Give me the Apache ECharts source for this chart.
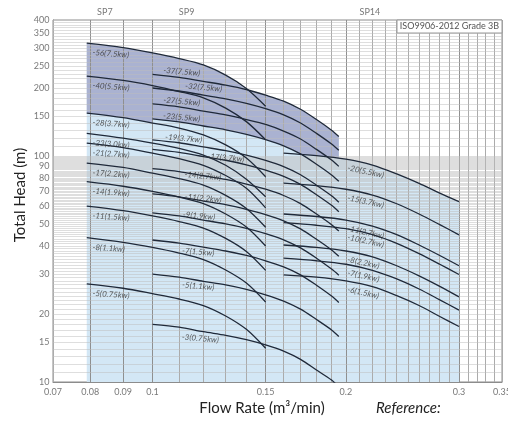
<!DOCTYPE html>
<html><head><meta charset="utf-8">
<script src="https://cdn.jsdelivr.net/npm/echarts@6/dist/echarts.min.js"></script>
<style>html,body{margin:0;padding:0;background:#fff}#c{width:508px;height:421px}</style>
</head><body><div id="c"></div>
<script>
// ---- data ----
const sp7Flow = [0.079, 0.09, 0.1, 0.11, 0.12, 0.13, 0.14, 0.15];
const sp7Labels = ['-56(7.5kw)','-40(5.5kw)','-28(3.7kw)','-23(3.0kw)','-21(2.7kw)','-17(2.2kw)','-14(1.9kw)','-11(1.5kw)','-8(1.1kw)','-5(0.75kw)'];
const sp7Heads = [
  [316, 302, 286, 270, 253, 228, 199, 166],
  [226, 216, 205, 193, 181, 163, 142, 118],
  [155, 148, 140, 133, 124, 112, 98, 81],
  [126, 120, 114, 108, 101, 91, 79, 66],
  [114, 109, 103, 97.5, 91, 82, 72, 59],
  [93, 89, 84, 79.5, 74.4, 67, 58.6, 48.4],
  [77, 73.5, 69.7, 65.8, 61.6, 55.4, 48.5, 40],
  [60, 57.3, 54.3, 51.3, 48, 43.2, 37.8, 31.2],
  [43.5, 41.5, 39.4, 37.2, 34.8, 31.3, 27.4, 22.6],
  [27.2, 26, 24.6, 23.3, 21.8, 19.6, 17.1, 14.1]
];
const sp9Flow = [0.1, 0.11, 0.12, 0.13, 0.14, 0.15, 0.16, 0.17, 0.18, 0.19, 0.195];
const sp9Labels = ['-37(7.5kw)','-32(7.5kw)','-27(5.5kw)','-23(5.5kw)','-19(3.7kw)','-17(3.7kw)','-14(2.7kw)','-11(2.2kw)','-9(1.9kw)','-7(1.5kw)','-5(1.1kw)','-3(0.75kw)'];
const sp9Heads = [
  [230, 223, 214, 206, 197, 186, 175, 161, 145, 130, 122],
  [200, 194, 186, 179, 171, 162, 152, 140, 126, 113, 106],
  [170, 165, 158, 152, 145, 138, 129, 119, 107, 96, 90],
  [146, 141.6, 135.8, 130.7, 124.8, 118.3, 111, 102.2, 92, 82.5, 77.4],
  [118, 114.5, 109.7, 105.6, 100.9, 95.6, 89.7, 82.6, 74.3, 66.7, 62.5],
  [107, 103.8, 99.5, 95.8, 91.5, 86.7, 81.3, 74.9, 67.4, 60.5, 56.7],
  [88, 85.4, 81.8, 78.8, 75.2, 71.3, 66.9, 61.6, 55.4, 49.7, 46.6],
  [68, 66, 63.2, 60.9, 58.1, 55.1, 51.7, 47.6, 42.8, 38.4, 36],
  [56, 54.3, 52.1, 50.1, 47.9, 45.4, 42.6, 39.2, 35.3, 31.6, 29.7],
  [42.5, 41.2, 39.5, 38, 36.3, 34.4, 32.3, 29.8, 26.8, 24, 22.5],
  [30, 29.1, 27.9, 26.9, 25.7, 24.3, 22.8, 21, 18.9, 17, 15.9],
  [18, 17.5, 16.7, 16.1, 15.4, 14.6, 13.7, 12.6, 11.3, 10.2, 9.5]
];
const sp14Flow = [0.16, 0.18, 0.2, 0.22, 0.24, 0.26, 0.28, 0.3];
const sp14Labels = ['-20(5.5kw)','-15(3.7kw)','-11(2.7kw)','-10(2.7kw)','-8(2.2kw)','-7(1.9kw)','-6(1.5kw)'];
const sp14Heads = [
  [103, 100.4, 96.8, 91.2, 83.4, 75.7, 68.5, 62.8],
  [75.9, 74, 71.3, 67.2, 61.5, 55.4, 49.7, 44.8],
  [55.4, 54, 52.1, 49, 44.9, 40.4, 36.3, 32.7],
  [50.7, 49.4, 47.7, 44.9, 41.1, 37, 33.2, 29.9],
  [40.4, 39.4, 38, 35.8, 32.7, 29.5, 26.5, 23.8],
  [35.3, 34.4, 33.2, 31.2, 28.6, 25.8, 23.1, 20.8],
  [29.8, 29.1, 28, 26.4, 24.1, 21.8, 19.5, 17.6]
];
const familyNames = ['SP7', 'SP9', 'SP14'];
const xTickLabels = [0.07, 0.08, 0.09, 0.1, 0.15, 0.2, 0.3, 0.35];
const yTickLabels = [10, 15, 20, 30, 40, 50, 60, 70, 80, 90, 100, 150, 200, 250, 300, 350, 400];
const noteText = 'ISO9906-2012 Grade 3B';

// ---- build options ----
const FONT = 'Lato, "Noto Sans", sans-serif';
const X_MIN = 0.07, X_MAX = 0.35, Y_MIN = 10, Y_MAX = 400;

function pts(flow, h) { return flow.map((q, i) => [q, h[i]]); }

// grid line values
const xGrid = [];
for (let v = 75; v < 100; v += 5) xGrid.push(v / 1000);
for (let v = 10; v <= 35; v++) xGrid.push(v / 100);
const xMajor = [0.08, 0.09, 0.1, 0.15, 0.2, 0.3];
const yGrid = [];
for (let v = 11; v <= 100; v++) yGrid.push(v);
for (let v = 110; v < 400; v += 10) yGrid.push(v);

const gridLines = [];
xGrid.forEach(v => gridLines.push({xAxis: v, lineStyle: {color: xMajor.some(m => Math.abs(m - v) < 1e-9) ? '#8f8f8f' : '#ababab', width: 1, type: 'solid'}}));
yGrid.forEach(v => gridLines.push({yAxis: v, lineStyle: {color: '#bdbdbd', width: 0.5, type: 'solid'}}));

// shaded regions
const top7 = pts(sp7Flow, sp7Heads[0]).filter(p => p[0] < 0.14);
const top9 = pts(sp9Flow, sp9Heads[0]).filter(p => p[0] >= 0.14);
const envelope = top7.concat(top9);
const low7 = pts(sp7Flow, sp7Heads[2]).filter(p => p[0] <= 0.1);
const low9 = pts(sp9Flow, sp9Heads[3]);
const darkPoly = envelope.concat(low9.slice().reverse(), low7.slice().reverse());
const lightPoly = [[sp7Flow[0], Y_MIN]].concat(envelope, [[sp9Flow[sp9Flow.length - 1], Y_MIN]]);
const sp14Poly = [[sp14Flow[0], Y_MIN]].concat(pts(sp14Flow, sp14Heads[0]), [[sp14Flow[sp14Flow.length - 1], Y_MIN]]);

function polySeries(poly, color, z) {
  return {
    type: 'custom', z: z, silent: true, animation: false, clip: true,
    data: [[0.1, 100]],
    renderItem: function (params, api) {
      return {type: 'polygon', shape: {points: poly.map(p => api.coord(p))}, style: {fill: color}};
    }
  };
}

const series = [];
series.push(polySeries(lightPoly, '#d3e7f5', 1));
series.push(polySeries(darkPoly, '#aab2d1', 1));
series.push(polySeries(sp14Poly, '#d3e7f5', 1));

// grid lines
series.push({
  type: 'line', data: [[0.1, 100]], symbol: 'none', lineStyle: {width: 0}, silent: true, animation: false,
  markLine: {silent: true, symbol: ['none', 'none'], label: {show: false}, animation: false, z: 5, data: gridLines}
});

// curves
const curveStyle = {color: '#1f2939', width: 1.3};
[[sp7Flow, sp7Heads], [sp9Flow, sp9Heads], [sp14Flow, sp14Heads]].forEach(([flow, heads]) => {
  heads.forEach(h => series.push({
    type: 'line', data: pts(flow, h), symbol: 'none', smooth: 0.3, z: 6,
    lineStyle: curveStyle, silent: true, animation: false
  }));
});

// curve labels
const lab = {fontFamily: FONT, fontSize: 8, fontStyle: 'italic', color: '#333'};
const labelData = [];
sp7Labels.forEach((t, i) => labelData.push({value: [sp7Flow[0], sp7Heads[i][0]], label: Object.assign({formatter: t, offset: [6, 9], rotate: -4}, lab)}));
const sp9dx = [10, 32, 10, 10, 12, 55, 32, 32, 30, 30, 30, 30];
const sp9dy = [-5, -5, -5, -4, -4, 2, 3, 0, -1, 8, 8, 10];
sp9Labels.forEach((t, i) => labelData.push({value: [sp9Flow[0], sp9Heads[i][0]], label: Object.assign({formatter: t, offset: [sp9dx[i], sp9dy[i]], rotate: -5}, lab)}));
sp14Labels.forEach((t, i) => labelData.push({value: [sp14Flow[2], sp14Heads[i][2]], label: Object.assign({formatter: t, offset: [3, 8], rotate: -12}, lab)}));
series.push({
  type: 'scatter', z: 7, silent: true, animation: false, clip: false, symbolSize: 1,
  itemStyle: {color: 'rgba(0,0,0,0)'},
  label: {show: true, position: 'right', distance: 0},
  data: labelData
});

// tick labels
const tick = {fontFamily: FONT, fontSize: 9, color: '#555'};
series.push({
  type: 'scatter', z: 7, silent: true, animation: false, clip: false, symbolSize: 1,
  itemStyle: {color: 'rgba(0,0,0,0)'},
  data: xTickLabels.map(v => ({value: [v, Y_MIN], label: Object.assign({show: true, position: 'bottom', distance: 5, formatter: String(v)}, tick)}))
    .concat(yTickLabels.map(v => ({value: [X_MIN, v], label: Object.assign({show: true, position: 'left', distance: 3, formatter: String(v)}, tick)})))
});
// family names above plot
const famQ = [0.0843, 0.113, 0.218];
series.push({
  type: 'scatter', z: 7, silent: true, animation: false, clip: false, symbolSize: 1,
  itemStyle: {color: 'rgba(0,0,0,0)'},
  data: familyNames.map((n, i) => ({value: [famQ[i], Y_MAX], label: Object.assign({show: true, position: 'top', distance: 3, formatter: n}, tick)}))
});

const chart = echarts.init(document.getElementById('c'), null, {renderer: 'canvas'});
chart.setOption({
  animation: false,
  grid: {left: 53, right: 6, top: 20, bottom: 39, show: true, borderColor: '#8c8c8c', borderWidth: 1, backgroundColor: 'transparent'},
  xAxis: {type: 'log', logBase: 10, min: X_MIN, max: X_MAX,
    axisLabel: {show: false}, axisTick: {show: false}, splitLine: {show: false}, minorTick: {show: false},
    axisLine: {show: true, lineStyle: {color: '#8c8c8c'}}},
  yAxis: {type: 'log', logBase: 10, min: Y_MIN, max: Y_MAX,
    axisLabel: {show: false}, axisTick: {show: false}, splitLine: {show: false}, minorTick: {show: false},
    axisLine: {show: true, lineStyle: {color: '#8c8c8c'}}},
  graphic: [
    {type: 'rect', z: 20, shape: {x: 397, y: 20, width: 105, height: 13}, style: {fill: '#fff', stroke: '#999', lineWidth: 1}},
    {type: 'text', z: 21, x: 449.5, y: 26.5, style: {text: noteText, fontFamily: FONT, fontSize: 9, fill: '#555', textAlign: 'center', textVerticalAlign: 'middle'}},
    {type: 'text', z: 21, x: 20, y: 195, rotation: Math.PI / 2, style: {text: 'Total Head (m)', fontFamily: FONT, fontSize: 15, fill: '#222', textAlign: 'center', textVerticalAlign: 'middle'}},
    {type: 'text', z: 21, x: 262, y: 408, style: {text: 'Flow Rate (m³/min)', fontFamily: FONT, fontSize: 15, fill: '#222', textAlign: 'center', textVerticalAlign: 'middle'}},
    {type: 'text', z: 21, x: 376, y: 408, style: {text: 'Reference:', fontFamily: FONT, fontSize: 15, fontStyle: 'italic', fill: '#222', textAlign: 'left', textVerticalAlign: 'middle'}}
  ],
  series: series
});
</script>
</body></html>
